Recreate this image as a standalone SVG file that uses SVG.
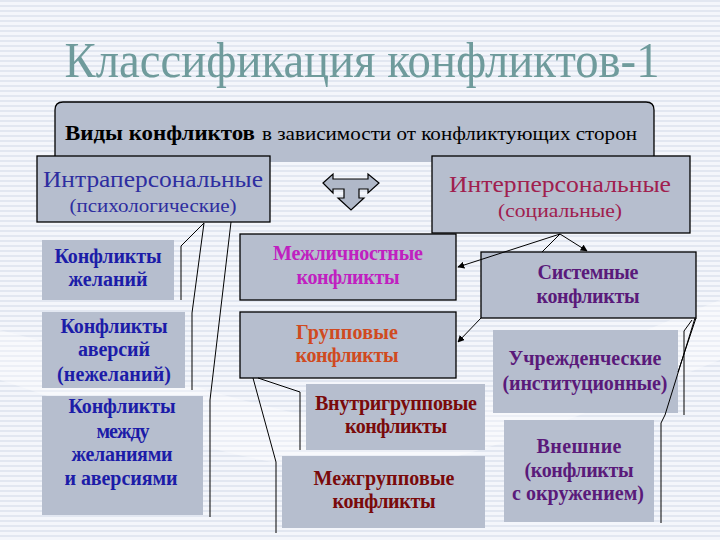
<svg xmlns="http://www.w3.org/2000/svg" width="720" height="540" viewBox="0 0 720 540" font-family="'Liberation Serif', 'Times New Roman', serif">
<defs>
<pattern id="stripes" width="8" height="5" patternUnits="userSpaceOnUse">
<rect width="8" height="5" fill="#f4f6fb"/>
<rect width="8" height="2" fill="#e2e7f1"/>
</pattern>
<marker id="ah" viewBox="0 0 10 10" refX="9" refY="5" markerWidth="7" markerHeight="7" orient="auto-start-reverse">
<path d="M0,0 L10,5 L0,10 Z" fill="#000"/>
</marker>
<style>
.box{fill:#b6bece;stroke:#000;stroke-width:1.3}
.pl{fill:#b6bece;stroke:none}
.t{text-anchor:middle}
.b{font-weight:bold;font-size:20px}
.c{fill:none;stroke:#000;stroke-width:1}
.blue{fill:#1c1ca8}
.mag{fill:#c020c0}
.org{fill:#d04a20}
.dred{fill:#7a0a0a}
.pur{fill:#5a1a7a}
</style>
</defs>
<rect width="720" height="540" fill="url(#stripes)"/>
<path d="M0,330 C120,360 220,400 330,420 C420,435 520,380 720,300 L720,360 C520,440 420,480 330,470 C220,460 120,420 0,380 Z" fill="#ffffff" opacity="0.35"/>

<text class="t" x="362" y="77" font-size="50" fill="#6f9b9c" textLength="595" lengthAdjust="spacingAndGlyphs">Классификация конфликтов-1</text>

<g id="header">
<path class="box" d="M55,162 L55,110 Q55,102 63,102 L646,102 Q654,102 654,110 L654,162"/>
<text x="65" y="140" font-size="20" font-weight="bold" fill="#000" textLength="190" lengthAdjust="spacingAndGlyphs">Виды конфликтов</text>
<text x="262" y="140" font-size="18" fill="#000" textLength="375" lengthAdjust="spacingAndGlyphs">в зависимости от конфликтующих сторон</text>
</g>

<g id="intra">
<rect class="box" x="37" y="156" width="233" height="66"/>
<text class="t" x="153" y="187" font-size="24" fill="#2e2ea0" textLength="220" lengthAdjust="spacingAndGlyphs">Интраперсональные</text>
<text class="t" x="153" y="212" font-size="19" fill="#2e2ea0" textLength="167" lengthAdjust="spacingAndGlyphs">(психологические)</text>
</g>

<g id="inter">
<rect class="box" x="432" y="156" width="258" height="77"/>
<text class="t" x="560" y="192" font-size="24" fill="#a0204e" textLength="222" lengthAdjust="spacingAndGlyphs">Интерперсональные</text>
<text class="t" x="560" y="217" font-size="19" fill="#a0204e" textLength="124" lengthAdjust="spacingAndGlyphs">(социальные)</text>
</g>

<g id="tarrow">
<path d="M323,183 L333,174 L333,179 L368,179 L368,174 L379,183 L368,193 L368,189 L359,189 L359,198 L364,198 L351,210 L338,198 L344,198 L344,189 L333,189 L333,193 Z" fill="#b0b8c8" stroke="#000" stroke-width="1.2"/>
</g>

<g id="desires">
<rect class="pl" x="42" y="240" width="132" height="60"/>
<text class="t b blue" x="108" y="263" textLength="107">Конфликты</text>
<text class="t b blue" x="108" y="286" textLength="79">желаний</text>
</g>

<g id="aversions">
<rect class="pl" x="42" y="312" width="143" height="76"/>
<text class="t b blue" x="114" y="333" textLength="107">Конфликты</text>
<text class="t b blue" x="114" y="356" textLength="72">аверсий</text>
<text class="t b blue" x="114" y="381" textLength="114">(нежеланий)</text>
</g>

<g id="between">
<rect class="pl" x="42" y="396" width="161" height="119"/>
<text class="t b blue" x="122" y="413" textLength="107">Конфликты</text>
<text class="t b blue" x="123" y="438" textLength="53">между</text>
<text class="t b blue" x="122" y="461" textLength="101">желаниями</text>
<text class="t b blue" x="121" y="485" textLength="113">и аверсиями</text>
</g>

<g id="interpersonal">
<rect class="box" x="240" y="234" width="216" height="66"/>
<text class="t b mag" x="348" y="260" textLength="150">Межличностные</text>
<text class="t b mag" x="348" y="284" textLength="103">конфликты</text>
</g>

<g id="group">
<rect class="box" x="240" y="312" width="216" height="66"/>
<text class="t b org" x="347" y="339" textLength="102">Групповые</text>
<text class="t b org" x="347" y="362" textLength="103">конфликты</text>
</g>

<g id="intragroup">
<rect class="pl" x="306" y="384" width="179" height="66"/>
<text class="t b dred" x="396" y="410" textLength="162">Внутригрупповые</text>
<text class="t b dred" x="396" y="433" textLength="102">конфликты</text>
</g>

<g id="intergroup">
<rect class="pl" x="282" y="456" width="203" height="72"/>
<text class="t b dred" x="384" y="485" textLength="141">Межгрупповые</text>
<text class="t b dred" x="384" y="508" textLength="103">конфликты</text>
</g>

<g id="system">
<rect class="box" x="481" y="252" width="215" height="66"/>
<text class="t b pur" x="588" y="279" textLength="101">Системные</text>
<text class="t b pur" x="588" y="303" textLength="103">конфликты</text>
</g>

<g id="institutional">
<rect class="pl" x="493" y="330" width="185" height="83"/>
<text class="t b pur" x="585" y="365" textLength="153">Учрежденческие</text>
<text class="t b pur" x="585" y="390" textLength="165">(институционные)</text>
</g>

<g id="external">
<rect class="pl" x="504" y="420" width="150" height="102"/>
<text class="t b pur" x="579" y="453" textLength="85">Внешние</text>
<text class="t b pur" x="579" y="477" textLength="109">(конфликты</text>
<text class="t b pur" x="578" y="500" textLength="132">с окружением)</text>
</g>

<g id="connectors">
<path class="c" d="M204,223 L181,246 L181,300"/>
<path class="c" d="M204,223 L192,313 L192,390"/>
<path class="c" d="M231,222 L210,400 L210,517"/>
<path class="c" d="M253,378 L276,462 L276,533"/>
<path class="c" d="M258,378 L300,392 L300,450"/>
<path class="c" d="M560,234 L458,267" marker-end="url(#ah)"/>
<path class="c" d="M560,234 L587,251" marker-end="url(#ah)"/>
<path class="c" d="M560,234 L542,252"/>
<path class="c" d="M481,318 L458,342" marker-end="url(#ah)"/>
<path class="c" d="M696,318 L678,372"/>
<path class="c" d="M692,320 L684,331 L684,415"/>
<path class="c" d="M695,318 L665,415 L661,423 L661,523"/>
</g>
</svg>
